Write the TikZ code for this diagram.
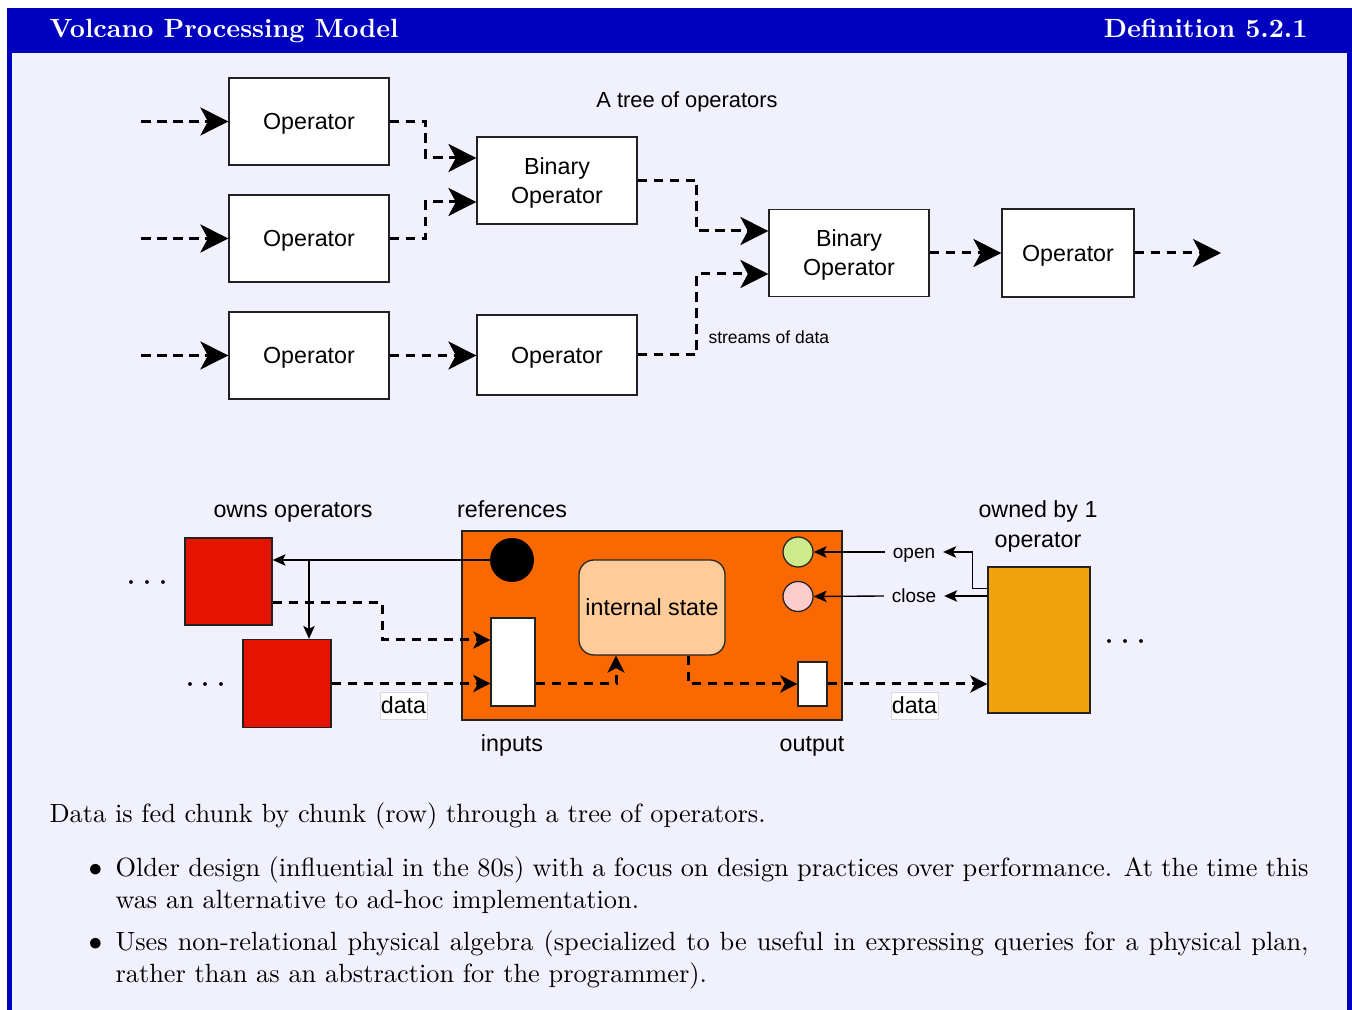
\documentclass[tikz,border=0pt]{standalone}
\usepackage{fontspec}
\newfontfamily\dsans{Liberation Sans}
\usetikzlibrary{arrows.meta}

\definecolor{frameblue}{RGB}{0,0,191}
\definecolor{bodybg}{RGB}{241,241,253}
\definecolor{edge}{RGB}{34,34,34}
\definecolor{opred}{RGB}{229,20,0}
\definecolor{oporange}{RGB}{250,104,0}
\definecolor{opamber}{RGB}{240,163,10}
\definecolor{statefill}{RGB}{255,204,153}
\definecolor{opengreen}{RGB}{205,235,139}
\definecolor{closepink}{RGB}{255,204,204}

\newcommand{\bodyfont}{\fontsize{10.54}{12.8}\selectfont}

\begin{document}
\begin{tikzpicture}[x=0.4pt,y=-0.4pt,
  % single-line sans labels are centred on the font's full ascent/descent
  sansline/.style={text height=8.42pt, text depth=1.97pt},
  opbox/.style={draw=edge, line width=0.5pt, fill=white, minimum width=64pt,
    minimum height=34.8pt, inner sep=0, align=center, sansline,
    font=\dsans\fontsize{9.3}{11.6}\selectfont},
  boxtext/.style={inner sep=0, align=center, font=\dsans\fontsize{9.3}{11.6}\selectfont},
  flow/.style={line width=1.2pt, dash pattern=on 3.8pt off 2.6pt,
    -{Stealth[length=11.2pt,width=11.2pt,inset=3pt]}},
  dflow/.style={line width=1.2pt, dash pattern=on 3.8pt off 2.6pt,
    -{Stealth[length=6.8pt,width=6.8pt,inset=1.8pt]}},
  ctrl/.style={line width=0.55pt, draw=black,
    -{Stealth[length=5.2pt,width=4.6pt,inset=1.2pt]}},
  part/.style={draw=edge, line width=0.5pt, inner sep=0},
  lbl/.style={inner sep=0, align=center, sansline, font=\dsans\fontsize{9.3}{12}\selectfont},
  smalllbl/.style={inner xsep=3pt, inner ysep=0, text height=6.88pt, text depth=1.61pt,
    font=\dsans\fontsize{7.6}{9}\selectfont},
  datalbl/.style={draw=black!15, line width=0.3pt, fill=white, inner xsep=0.3pt,
    minimum height=10.8pt, inner ysep=0, sansline, font=\dsans\fontsize{9.3}{11}\selectfont},
  dots/.style={inner sep=0, anchor=base, font=\fontsize{13.8}{14}\selectfont}
]
\useasboundingbox (0,0) rectangle (1352,1010);

% frame and title bar
\fill[white] (0,0) rectangle (1352,1010);
\fill[frameblue] (7,8) rectangle (1352,1010);
\fill[bodybg] (12,53) rectangle (1347,1010);
\node[anchor=base west, inner sep=0, text=white, font=\bodyfont\bfseries] (title) at (49,38) {Volcano Processing Model};
\node[anchor=base east, inner sep=0, text=white, font=\bodyfont\bfseries] (defn) at (1308,38) {Definition 5.2.1};

% ---- tree of operators ----
\node[lbl, text height=7.92pt, text depth=1.86pt, font=\dsans\fontsize{8.75}{10}\selectfont] (treelbl) at (687,100) {A tree of operators};

\node[opbox] (op1) at (309,121.5) {Operator};
\node[opbox] (op2) at (309,238.5) {Operator};
\node[opbox] (op3) at (309,355.5) {Operator};
\node[opbox] (bin1) at (557,180.5) {};
\node[boxtext] (bin1text) at ([yshift=-0.8pt]bin1.center) {Binary\\Operator};
\node[opbox, minimum height=32pt] (opm) at (557,355) {Operator};
\node[opbox] (bin2) at (849,253) {};
\node[boxtext] (bin2text) at ([yshift=-0.8pt]bin2.center) {Binary\\Operator};
\node[opbox, minimum width=52.8pt, minimum height=35.2pt] (opr) at (1068,253) {Operator};

\coordinate (in1) at (141,121.5);
\coordinate (in2) at (141,238.5);
\coordinate (in3) at (141,355.5);
\coordinate (out) at (1221,253);

\draw[flow] (in1) -- (op1.west);
\draw[flow] (in2) -- (op2.west);
\draw[flow] (in3) -- (op3.west);
\draw[flow] (op1.east) -- ++(36,0) |- ([yshift=9pt]bin1.west);
\draw[flow] (op2.east) -- ++(36,0) |- ([yshift=-8.6pt]bin1.west);
\draw[flow] (op3.east) -- (opm.west |- op3.east);
\draw[flow] (bin1.east) -- ++(59,0) |- ([yshift=8.8pt]bin2.west);
\draw[flow] (opm.east) -- ++(59,0) |- ([yshift=-8.4pt]bin2.west);
\draw[flow] (bin2.east) -- (opr.west);
\draw[flow] (opr.east) -- (out);

\node[anchor=west, inner sep=0, font=\dsans\fontsize{7}{8}\selectfont] (streams) at (708,337) {streams of data};

% ---- a single operator and its parts ----
\node[lbl] (ownslbl) at (293,509) {owns operators};
\node[lbl] (reflbl) at (512,509) {references};
\node[inner sep=0, align=center, font=\dsans\fontsize{9.3}{12}\selectfont] (ownedlbl) at (1038,526) {owned by 1\\operator};
\node[lbl] (inlbl) at (512,743) {inputs};
\node[lbl] (outlbl) at (812,743) {output};

\node[part, fill=opred, minimum size=34.8pt] (red1) at (228.5,581.5) {};
\node[part, fill=opred, minimum size=35.2pt] (red2) at (287,683.5) {};
\node[dots] (dots1) at (147.3,591.6) {$\cdots$};
\node[dots] (dots2) at (206,693.9) {$\cdots$};

\node[part, fill=oporange, minimum width=152pt, minimum height=75.6pt] (oper) at (652,625.5) {};
\node[circle, fill=black, minimum size=17.6pt, inner sep=0] (refc) at (512,560) {};
\node[part, fill=white, minimum width=17.6pt, minimum height=35.2pt] (inp) at (513,662) {};
\node[part, fill=statefill, rounded corners=6pt, minimum width=58.4pt, minimum height=38pt,
  sansline, font=\dsans\fontsize{9.3}{11}\selectfont] (state) at (652,607.5) {internal state};
\node[part, circle, fill=opengreen, minimum size=12pt] (green) at (798,552) {};
\node[part, circle, fill=closepink, minimum size=12pt] (pink) at (798,596.5) {};
\node[part, fill=white, minimum width=11.6pt, minimum height=17.6pt] (outp) at (812.5,684) {};

\node[part, fill=opamber, minimum width=40.8pt, minimum height=58.4pt] (owned) at (1039,640) {};
\node[dots, font=\fontsize{14.7}{15}\selectfont] (dots3) at (1125.7,650.9) {$\cdots$};

\node[smalllbl] (openl) at (914,552) {open};
\node[smalllbl] (closel) at (914,596) {close};

% references to the child operators
\coordinate (br) at (309,560);
\draw[ctrl] (refc.center) -- (refc.center -| red1.east);
\draw[ctrl] (br) -- (br |- red2.north);

% open / close calls
\draw[ctrl] (openl.west) -- (green.east);
\draw[ctrl] (closel.west) -- (pink.east);
\draw[ctrl] ([yshift=-8.8pt]owned.north west) -- ++(-15,0) |- (openl.east);
\draw[ctrl] (owned.west |- closel.east) -- (closel.east);

% data streams
\draw[dflow] ([yshift=-8.6pt]red1.east) -- ++(110,0) |- ([yshift=8.8pt]inp.west);
\draw[dflow] (red2.east) -- (inp.west |- red2.east);
\draw[dflow] ([yshift=-8.8pt]inp.east) -| ([xshift=-14.4pt]state.south);
\draw[dflow] ([xshift=14.4pt]state.south) |- (outp.west);
\draw[dflow] (outp.east) -- (owned.west |- outp.east);

\node[datalbl] (data1) at (403.5,705.5) {data};
\node[datalbl] (data2) at (914.5,705.5) {data};

% ---- text ----
\node[anchor=base west, inner sep=0, font=\bodyfont] (intro) at (49,823)
  {Data is fed chunk by chunk (row) through a tree of operators.};
\node[anchor=base west, inner sep=0, text width=477.2pt, align=justify, font=\bodyfont] (item1) at (115,876)
  {\llap{$\bullet$\hspace{5.27pt}}Older design (influential in the 80s) with a focus on design practices over performance. At the time this\linebreak
   was an alternative to ad-hoc implementation.};
\node[anchor=base west, inner sep=0, text width=477.2pt, align=justify, font=\bodyfont] (item2) at (115,950)
  {\llap{$\bullet$\hspace{5.27pt}}Uses non-relational physical algebra (specialized to be useful in expressing queries for a physical plan,\linebreak
   rather than as an abstraction for the programmer).};
\end{tikzpicture}
\end{document}
